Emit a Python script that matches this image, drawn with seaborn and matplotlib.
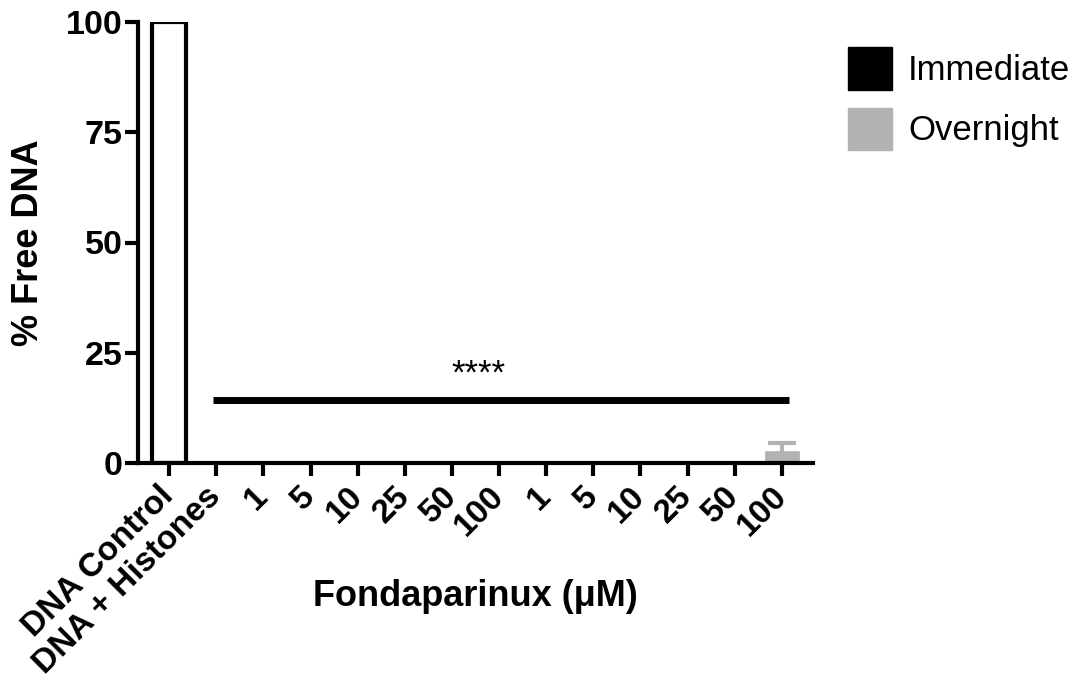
import matplotlib
matplotlib.use("Agg")
import matplotlib.pyplot as plt
from matplotlib.patches import Patch
import seaborn as sns
import pandas as pd
import numpy as np

# ---- data ----
keys = ["DNA Control", "DNA + Histones",
        "I1", "I5", "I10", "I25", "I50", "I100",
        "O1", "O5", "O10", "O25", "O50", "O100"]
tick_labels = ["DNA Control", "DNA + Histones",
               "1", "5", "10", "25", "50", "100",
               "1", "5", "10", "25", "50", "100"]
groups = ["Control", "Histones",
          "Immediate", "Immediate", "Immediate", "Immediate", "Immediate", "Immediate",
          "Overnight", "Overnight", "Overnight", "Overnight", "Overnight", "Overnight"]
free_dna = [100, 0, 0, 0, 0, 0, 0, 0, 0, 0, 0, 0, 0, 2.7]
sd = [0, 0, 0, 0, 0, 0, 0, 0, 0, 0, 0, 0, 0, 1.8]
y_ticks = [0, 25, 50, 75, 100]
legend_labels = ["Immediate", "Overnight"]

GRAY = "#b2b2b2"

sns.set_theme(style="ticks")
plt.rcParams["font.family"] = ["Liberation Sans", "DejaVu Sans"]
plt.rcParams["text.color"] = "black"
plt.rcParams["axes.labelcolor"] = "black"
plt.rcParams["xtick.color"] = "black"
plt.rcParams["ytick.color"] = "black"
plt.rcParams["axes.edgecolor"] = "black"

df = pd.DataFrame({"key": keys, "value": free_dna, "group": groups})

fig = plt.figure(figsize=(10.86, 6.79), dpi=100)
ax = fig.add_axes([138 / 1086, (679 - 463) / 679, (813 - 138) / 1086, (463 - 22) / 679])

hue_order = ["Control", "Histones", "Immediate", "Overnight"]
palette = {"Control": "white", "Histones": "black", "Immediate": "black", "Overnight": GRAY}
sns.barplot(data=df, x="key", y="value", hue="group", hue_order=hue_order,
            order=keys, palette=palette, dodge=False, width=0.72,
            errorbar=None, legend=False, ax=ax, saturation=1)

for cont, grp in zip(ax.containers, hue_order):
    for p in cont:
        if grp == "Control":
            p.set_facecolor("white")
            p.set_edgecolor("black")
            p.set_linewidth(3)
        else:
            p.set_edgecolor(palette[grp])
            p.set_linewidth(0.5)

# error bars (SD)
xs = np.arange(len(keys))
err_colors = [palette[g] if g != "Control" else "black" for g in groups]
for x, v, e, c in zip(xs, free_dna, sd, err_colors):
    if e > 0:
        ax.errorbar(x, v, yerr=e, color=c, elinewidth=3, capsize=10, capthick=3,
                    fmt="none", zorder=1)

# significance line
ax.plot([0.93, 13.15], [14.3, 14.3], color="black", lw=5, solid_capstyle="butt")
ax.text(6.57, 18.1, "****", ha="center", va="baseline", fontsize=25)

ax.set_xlim(-0.66, 13.66)
ax.set_ylim(0, 100)
ax.set_yticks(y_ticks)
ax.set_yticklabels([str(t) for t in y_ticks], fontsize=24.5, fontweight="bold")
ax.set_xticks(xs)
ax.set_xticklabels(tick_labels, fontsize=24, fontweight="bold", rotation=45,
                   ha="right", va="center", rotation_mode="anchor")

for s in ["top", "right"]:
    ax.spines[s].set_visible(False)
for s in ["left", "bottom"]:
    ax.spines[s].set_linewidth(3)
ax.tick_params(axis="both", length=9.5, width=3, direction="out")
ax.tick_params(axis="y", pad=1.5)
ax.tick_params(axis="x", pad=11)

ax.set_ylabel("% Free DNA", fontsize=26, fontweight="bold")
ax.yaxis.set_label_coords(-0.137, 0.5)
ax.set_xlabel("Fondaparinux (μM)", fontsize=26, fontweight="bold")
ax.xaxis.set_label_coords(0.5, -0.262)
ax.xaxis.label.set_va("top")

handles = [Patch(facecolor="black", edgecolor="black"),
           Patch(facecolor=GRAY, edgecolor=GRAY)]
fig.legend(handles, legend_labels, loc="upper left",
           bbox_to_anchor=(848 / 1086, 1 - 47 / 679), frameon=False,
           borderpad=0, borderaxespad=0, fontsize=25, handlelength=1.27,
           handleheight=1.51, labelspacing=0.52, handletextpad=0.46)

fig.savefig("out.png", dpi=100)
